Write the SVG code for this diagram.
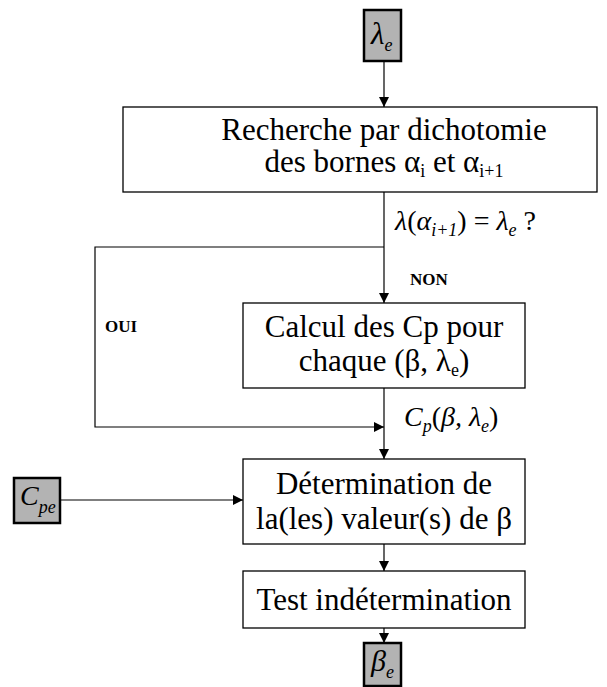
<svg xmlns="http://www.w3.org/2000/svg" width="607" height="687" viewBox="0 0 607 687">
  <defs>
    <marker id="arrow" markerUnits="userSpaceOnUse" markerWidth="10" markerHeight="10" refX="10" refY="5" orient="auto">
      <path d="M0,0 L10,5 L0,10 z" fill="#000"/>
    </marker>
    <style>
      .box { fill: #fff; stroke: #000; stroke-width: 1.3; }
      .io { fill: #b3b3b3; stroke: #000; stroke-width: 2.5; }
      .wire { fill: none; stroke: #000; stroke-width: 1.2; }
      .arr { marker-end: url(#arrow); }
      .t { font-family: "Liberation Serif", "Times New Roman", serif; font-size: 31px; fill: #000; }
      .m { font-family: "Liberation Serif", "Times New Roman", serif; font-size: 28px; font-style: italic; fill: #000; }
      .up { font-style: normal; }
      .sub { font-size: 18px; }
      .lbl { font-family: "Liberation Serif", "Times New Roman", serif; font-size: 17px; font-weight: bold; fill: #000; }
    </style>
  </defs>

  <!-- connectors -->
  <g id="connectors">
    <line class="wire arr" x1="384" y1="61" x2="384" y2="107"/>
    <line class="wire arr" x1="384" y1="192" x2="384" y2="303"/>
    <polyline class="wire arr" points="384,247 95,247 95,427 384,427"/>
    <line class="wire arr" x1="384" y1="388" x2="384" y2="459"/>
    <line class="wire arr" x1="60" y1="500" x2="243" y2="500"/>
    <line class="wire arr" x1="384" y1="544" x2="384" y2="571"/>
    <line class="wire arr" x1="384" y1="628" x2="384" y2="643"/>
  </g>

  <!-- input lambda_e -->
  <g id="in-lambda">
    <rect class="io" x="364" y="10" width="37" height="51"/>
    <text class="m" x="371" y="44" style="font-size:31px">λ<tspan class="sub" dy="7">e</tspan></text>
  </g>

  <!-- dichotomic search -->
  <g id="search">
    <rect class="box" x="123" y="107" width="474" height="85"/>
    <text class="t" x="384" y="140" text-anchor="middle">Recherche par dichotomie</text>
    <text class="t" x="384" y="172" text-anchor="middle">des bornes α<tspan class="sub" dy="5">i</tspan><tspan dy="-5"> et α</tspan><tspan class="sub" dy="5">i+1</tspan></text>
  </g>

  <!-- test condition -->
  <g id="cond">
    <text class="m" x="395" y="230">λ<tspan class="up">(</tspan>α<tspan class="sub" dy="6">i+1</tspan><tspan class="up" dy="-6">) = </tspan>λ<tspan class="sub" dy="6">e</tspan><tspan class="up" dy="-6"> ?</tspan></text>
    <text class="lbl" x="410" y="285">NON</text>
    <text class="lbl" x="105" y="332">OUI</text>
  </g>

  <!-- Cp computation -->
  <g id="calc">
    <rect class="box" x="243" y="303" width="282" height="85"/>
    <text class="t" x="384" y="337" text-anchor="middle">Calcul des Cp pour</text>
    <text class="t" x="384" y="371" text-anchor="middle">chaque (β, λ<tspan class="sub" dy="5">e</tspan><tspan dy="-5">)</tspan></text>
  </g>

  <!-- Cp label -->
  <g id="cp-label">
    <text class="m" x="404" y="426">C<tspan class="sub" dy="6">p</tspan><tspan class="up" dy="-6">(</tspan>β,<tspan> </tspan>λ<tspan class="sub" dy="6">e</tspan><tspan class="up" dy="-6">)</tspan></text>
  </g>

  <!-- input Cpe -->
  <g id="in-cpe">
    <rect class="io" x="14" y="478" width="46" height="45"/>
    <text class="m" x="20" y="505">C<tspan class="sub" dy="8">pe</tspan></text>
  </g>

  <!-- beta determination -->
  <g id="determ">
    <rect class="box" x="243" y="459" width="282" height="85"/>
    <text class="t" x="384" y="494" text-anchor="middle">Détermination de</text>
    <text class="t" x="384" y="529" text-anchor="middle">la(les) valeur(s) de β</text>
  </g>

  <!-- indetermination test -->
  <g id="test">
    <rect class="box" x="243" y="571" width="282" height="57"/>
    <text class="t" x="384" y="610" text-anchor="middle">Test indétermination</text>
  </g>

  <!-- output beta_e -->
  <g id="out-beta">
    <rect class="io" x="364" y="643" width="37" height="43"/>
    <text class="m" x="371" y="671" style="font-size:30px">β<tspan class="sub" dy="7">e</tspan></text>
  </g>
</svg>
